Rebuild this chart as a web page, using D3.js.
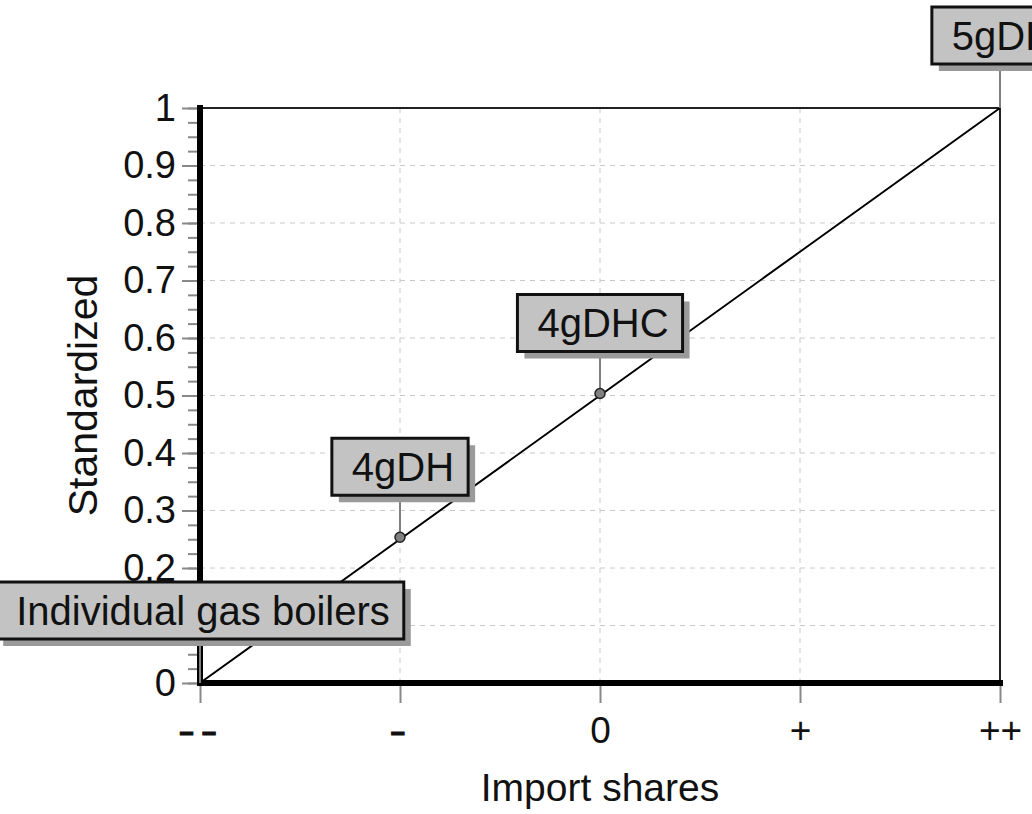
<!DOCTYPE html>
<html>
<head>
<meta charset="utf-8">
<script src="https://cdn.jsdelivr.net/npm/d3@7"></script>
<style>
  html, body { margin: 0; padding: 0; background: #fff; }
  svg { display: block; font-family: "Liberation Sans", Arial, sans-serif; }
</style>
</head>
<body>
<svg id="chart" width="1032" height="814"></svg>
<script>
// Ordinal categories of the import-share criterion
const categories = ["--", "-", "0", "+", "++"];
// Standardized score for each category
const scores = [0, 0.25, 0.5, 0.75, 1];
// Alternatives placed on the value function
const altNames = ["Individual gas boilers", "4gDH", "4gDHC", "5gDH"];
const altCategories = ["--", "-", "0", "++"];
const yTicks = [0, 0.1, 0.2, 0.3, 0.4, 0.5, 0.6, 0.7, 0.8, 0.9, 1];

const svg = d3.select("#chart");
const W = 1032, H = 814;
const m = { left: 200, right: 32, top: 108, bottom: 131 };
const x = d3.scalePoint().domain(categories).range([m.left, W - m.right]);
const y = d3.scaleLinear().domain([0, 1]).range([H - m.bottom, m.top]);

const scoreOf = c => scores[categories.indexOf(c)];

// grid
const grid = svg.append("g");
grid.selectAll("line.h").data(yTicks.filter(v => v > 0 && v < 1)).join("line")
  .attr("x1", m.left).attr("x2", W - m.right)
  .attr("y1", d => y(d)).attr("y2", d => y(d))
  .attr("stroke", "#c8c8c8").attr("stroke-width", 1).attr("stroke-dasharray", "5,5");
grid.selectAll("line.v").data(categories.slice(1, -1)).join("line")
  .attr("x1", d => x(d)).attr("x2", d => x(d))
  .attr("y1", m.top).attr("y2", H - m.bottom)
  .attr("stroke", "#c8c8c8").attr("stroke-width", 1).attr("stroke-dasharray", "5,5");

// frame (top and right)
svg.append("path")
  .attr("d", `M${m.left},${m.top}H${W - m.right}V${H - m.bottom}`)
  .attr("fill", "none").attr("stroke", "#222").attr("stroke-width", 2);

// y axis ticks (major + minor)
const yAxis = svg.append("g").attr("transform", `translate(${m.left},0)`)
  .call(d3.axisLeft(y).tickValues(d3.range(0, 1.0001, 0.025)).tickSize(12).tickFormat(""));
yAxis.select(".domain").remove();
yAxis.selectAll(".tick line").attr("stroke", "#888").attr("stroke-width", 2);
const yMajor = svg.append("g").attr("transform", `translate(${m.left},0)`)
  .call(d3.axisLeft(y).tickValues(yTicks).tickSize(18).tickPadding(6).tickFormat(d3.format("")));
yMajor.select(".domain").remove();
yMajor.selectAll(".tick line").attr("stroke", "#888").attr("stroke-width", 2);
yMajor.selectAll(".tick text").attr("font-size", 38).attr("fill", "#111")
  .attr("font-family", "'Liberation Sans', Arial, sans-serif");

// x axis ticks
const xAxis = svg.append("g").attr("transform", `translate(0,${H - m.bottom})`)
  .call(d3.axisBottom(x).tickSize(20).tickPadding(14));
xAxis.select(".domain").remove();
xAxis.selectAll(".tick line").attr("stroke", "#888").attr("stroke-width", 2);
xAxis.selectAll(".tick text").attr("font-size", 37).attr("fill", "#111")
  .attr("font-family", "'Liberation Sans', Arial, sans-serif");
// widen the minus-side labels so their dashes read as long bars
xAxis.selectAll(".tick text").filter(d => d.startsWith("-"))
  .attr("font-size", 38).attr("letter-spacing", 4)
  .attr("stroke", "#111").attr("stroke-width", 0.8)
  .attr("transform", "scale(1.35,1)");

// value function line
svg.append("path")
  .datum(categories.map((c, i) => [c, scores[i]]))
  .attr("d", d3.line().x(d => x(d[0])).y(d => y(d[1])))
  .attr("fill", "none").attr("stroke", "#000").attr("stroke-width", 2);

// thick axis lines
svg.append("line").attr("x1", m.left).attr("x2", m.left)
  .attr("y1", m.top - 3).attr("y2", H - m.bottom + 3)
  .attr("stroke", "#000").attr("stroke-width", 6);
svg.append("line").attr("x1", m.left).attr("x2", W - m.right + 3)
  .attr("y1", H - m.bottom).attr("y2", H - m.bottom)
  .attr("stroke", "#000").attr("stroke-width", 6);

// alternative markers and labels
const alts = altNames.map((n, i) => ({ name: n, cat: altCategories[i], v: scoreOf(altCategories[i]) }));
const boxH = 57, gap = 44;
const lab = svg.append("g").selectAll("g").data(alts).join("g");
lab.append("line")
  .attr("x1", d => x(d.cat)).attr("x2", d => x(d.cat))
  .attr("y1", d => y(d.v) - gap).attr("y2", d => y(d.v))
  .attr("stroke", "#808080").attr("stroke-width", 2);
lab.filter(d => d.v > 0 && d.v < 1).append("circle")
  .attr("cx", d => x(d.cat)).attr("cy", d => y(d.v) - 2).attr("r", 5)
  .attr("fill", "#808080").attr("stroke", "#222").attr("stroke-width", 1.5);
lab.each(function(d) {
  const g = d3.select(this);
  const t = g.append("text").text(d.name).attr("font-size", 40).attr("fill", "#111");
  const tw = t.node().getComputedTextLength();
  const bw = tw + 34;
  const cx = x(d.cat), bottom = y(d.v) - gap, left = cx - bw / 2, top = bottom - boxH;
  g.insert("rect", "text").attr("x", left + 7).attr("y", top + 7)
    .attr("width", bw).attr("height", boxH).attr("fill", "#9a9a9a");
  g.insert("rect", "text").attr("x", left).attr("y", top)
    .attr("width", bw).attr("height", boxH)
    .attr("fill", "#c3c3c3").attr("stroke", "#111").attr("stroke-width", 3);
  t.attr("x", left + bw - 14).attr("y", top + boxH / 2).attr("text-anchor", "end")
    .attr("dominant-baseline", "central");
});

// axis titles
svg.append("text").attr("x", x("0")).attr("y", 801).attr("text-anchor", "middle")
  .attr("font-size", 39).attr("fill", "#111").text("Import shares");
svg.append("text").attr("transform", `translate(97,${y(0.5)}) rotate(-90)`)
  .attr("text-anchor", "middle").attr("font-size", 41).attr("fill", "#111").text("Standardized");
</script>
</body>
</html>
